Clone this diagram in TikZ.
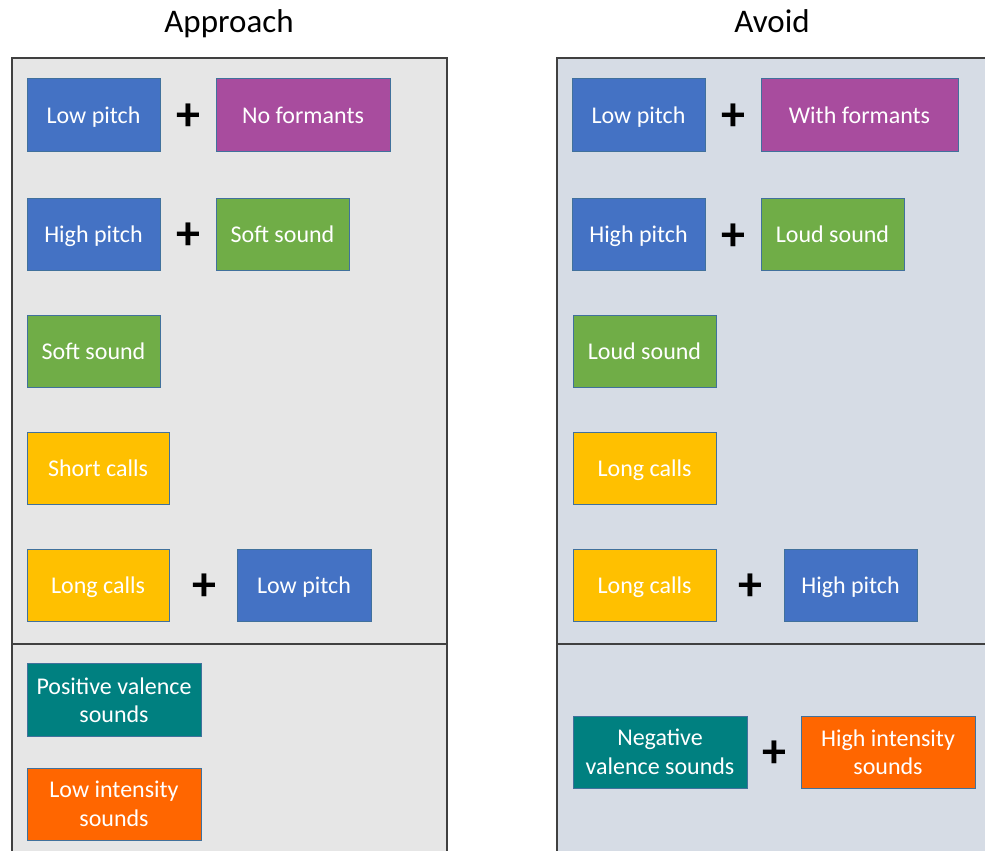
\documentclass[tikz,border=0pt]{standalone}
\usepackage{fontspec}
\setmainfont{Carlito}
\definecolor{cblue}{HTML}{4472C4}
\definecolor{cpurple}{HTML}{A84C9E}
\definecolor{cgreen}{HTML}{70AD47}
\definecolor{cgold}{HTML}{FFC000}
\definecolor{cteal}{HTML}{008080}
\definecolor{corange}{HTML}{FF6600}
\definecolor{cedge}{HTML}{41719C}
\definecolor{pgray}{HTML}{E6E6E6}
\definecolor{pblue}{HTML}{D6DCE5}
\definecolor{pedge}{HTML}{404040}
\begin{document}
\begin{tikzpicture}[x=1pt,y=-1pt,
  box/.style={draw=cedge,line width=0.9pt,text=white,font=\fontsize{24}{28.5}\selectfont,align=center,inner sep=0pt},
  one/.style={text height=20pt,text depth=3pt},
  plus/.style={font=\fontsize{48}{48}\selectfont\bfseries,inner sep=0pt},
  title/.style={font=\fontsize{33}{36}\selectfont,inner sep=0pt,anchor=base},
  panel/.style={draw=pedge,line width=1.3pt}]
\useasboundingbox (0,0) rectangle (985,851);
% panels
\path[panel,fill=pgray] (12,858) -- (12,58) -- (447,58) -- (447,858);
\path[panel,fill=pblue] (557,858) -- (557,58) -- (992,58) -- (992,858);
\draw[pedge,line width=1.3pt] (12,644) -- (447,644);
\draw[pedge,line width=1.3pt] (557,644) -- (992,644);
% titles
\node[title] (tA) at (229,33) {Approach};
\node[title] (tB) at (772,33) {Avoid};
% left
\node[box,one,fill=cblue,minimum width=133pt,minimum height=73pt] (a1) at (93.5,114.5) {Low pitch};
\node[plus] (p1) at (188,117) {+};
\node[box,one,fill=cpurple,minimum width=174pt,minimum height=73pt] (a2) at (303,114.5) {No formants};
\node[box,one,fill=cblue,minimum width=133pt,minimum height=72pt] (a3) at (93.5,234) {High pitch};
\node[plus] (p2) at (188,236) {+};
\node[box,one,fill=cgreen,minimum width=133pt,minimum height=72pt] (a4) at (282.5,234) {Soft sound};
\node[box,one,fill=cgreen,minimum width=133pt,minimum height=72pt] (a5) at (93.5,351) {Soft sound};
\node[box,one,fill=cgold,minimum width=142pt,minimum height=72pt] (a6) at (98,468) {Short calls};
\node[box,one,fill=cgold,minimum width=142pt,minimum height=72pt] (a7) at (98,585) {Long calls};
\node[plus] (p3) at (204,587) {+};
\node[box,one,fill=cblue,minimum width=134pt,minimum height=72pt] (a8) at (304,585) {Low pitch};
\node[box,fill=cteal,minimum width=174pt,minimum height=73pt] (a9) at (114,700) {Positive valence\\sounds};
\node[box,fill=corange,minimum width=174pt,minimum height=72pt] (a10) at (114,804) {Low intensity\\sounds};
% right
\node[box,one,fill=cblue,minimum width=133pt,minimum height=73pt] (b1) at (638.5,114.5) {Low pitch};
\node[plus] (q1) at (733,117) {+};
\node[box,one,fill=cpurple,minimum width=197pt,minimum height=73pt] (b2) at (859.5,114.5) {With formants};
\node[box,one,fill=cblue,minimum width=133pt,minimum height=72pt] (b3) at (638.5,234) {High pitch};
\node[plus] (q2) at (733,237) {+};
\node[box,one,fill=cgreen,minimum width=143pt,minimum height=72pt] (b4) at (832.5,234) {Loud sound};
\node[box,one,fill=cgreen,minimum width=143pt,minimum height=72pt] (b5) at (644.5,351) {Loud sound};
\node[box,one,fill=cgold,minimum width=143pt,minimum height=72pt] (b6) at (644.5,468) {Long calls};
\node[box,one,fill=cgold,minimum width=143pt,minimum height=72pt] (b7) at (644.5,585) {Long calls};
\node[plus] (q3) at (750,587) {+};
\node[box,one,fill=cblue,minimum width=133pt,minimum height=72pt] (b8) at (850.5,585) {High pitch};
\node[box,fill=cteal,minimum width=174pt,minimum height=72pt] (b9) at (660,752) {Negative\\valence sounds};
\node[plus] (q4) at (774,754) {+};
\node[box,fill=corange,minimum width=174pt,minimum height=72pt] (b10) at (888,752) {High intensity\\sounds};
\end{tikzpicture}
\end{document}
